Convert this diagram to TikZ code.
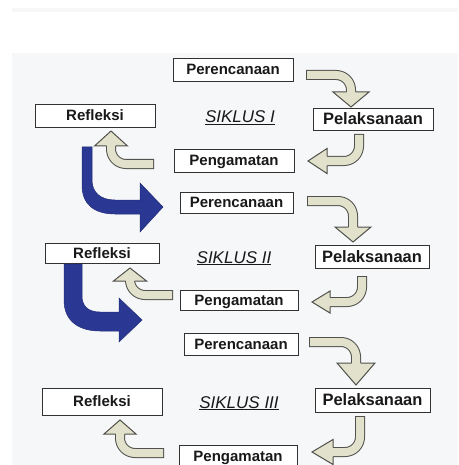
\documentclass[tikz,border=0pt]{standalone}
\usepackage{fontspec}
\setmainfont{Liberation Sans}
\usetikzlibrary{calc}
\definecolor{cream}{RGB}{226,225,203}
\definecolor{cedge}{RGB}{80,80,76}
\definecolor{bblue}{RGB}{42,56,148}
\definecolor{bgray}{RGB}{246,247,249}
\definecolor{boxline}{RGB}{50,50,50}
\newcommand{\creamarrow}[7]{%
  \draw[cedge, line width=10pt, rounded corners=15pt] #1 -- #3 -- #4;
  \draw[cream, line width=8pt, rounded corners=15pt] #2 -- #3 -- #4;
  \fill[cream] ($#4+#6*#5$) -- #7 -- ($#4-#6*#5$) -- cycle;
  \draw[cedge, line width=1pt, line join=miter] ($#4+4.5*#5$) -- ($#4+#6*#5$) -- #7 -- ($#4-#6*#5$) -- ($#4-4.5*#5$);
}
\tikzset{
  box/.style={draw=boxline, line width=0.9pt, fill=white, inner sep=0pt, text=black!90,
    font=\bfseries\fontsize{15}{17}\selectfont, text height=10.8pt, text depth=0pt},
  pelbox/.style={box, font=\bfseries\fontsize{16.5}{18}\selectfont, text height=11.8pt},
  siklus/.style={anchor=base, inner sep=0pt, text=black!90, font=\itshape\fontsize{17}{19}\selectfont},
  bluearrow/.style={fill=bblue, draw=bblue!80!black, line width=0.5pt}
}
\begin{document}
\begin{tikzpicture}[x=1pt, y=-1pt]
\clip (0,0) rectangle (458,465);
\fill[white] (0,0) rectangle (458,465);
\fill[black!3] (12,8) rectangle (458,12);
\fill[bgray] (12,53) rectangle (458,465);

% ---------- Cycle I ----------
\node[box, minimum width=120pt, minimum height=23pt] (per1) at (233,69.5) {Perencanaan};
\node[box, minimum width=120pt, minimum height=23pt] (ref1) at (95,115.5) {Refleksi};
\node[pelbox, minimum width=120pt, minimum height=22pt] (pel1) at (373,119) {Pelaksanaan};
\node[box, minimum width=120pt, minimum height=23pt] (pen1) at (234,160.5) {Pengamatan};
\node[siklus] (s1) at (240,123) {\underline{SIKLUS I}};

\creamarrow{(306,75)}{(307,75)}{(351,75)}{(351,92)}{(1,0)}{18}{(351,107)}
\creamarrow{(359,134)}{(359,135)}{(359,161)}{(327,161)}{(0,1)}{12.5}{(308,161)}
\creamarrow{(154,164)}{(153,164)}{(111,164)}{(111,146)}{(1,0)}{16.5}{(111,131)}

% ---------- Cycle II ----------
\node[box, minimum width=113pt, minimum height=21pt] (per2) at (236.5,202.5) {Perencanaan};
\node[box, minimum width=114pt, minimum height=20pt] (ref2) at (102,253) {Refleksi};
\node[pelbox, minimum width=114pt, minimum height=23pt] (pel2) at (372,256.5) {Pelaksanaan};
\node[box, minimum width=118pt, minimum height=20pt] (pen2) at (239,300) {Pengamatan};
\node[siklus] (s2) at (234,263) {\underline{SIKLUS II}};

\creamarrow{(307,201)}{(308,201)}{(353,201)}{(353,227)}{(1,0)}{18}{(353,242)}
\creamarrow{(362,276)}{(362,277)}{(362,302)}{(330,302)}{(0,1)}{11}{(312,302)}
\creamarrow{(173,295)}{(172,295)}{(130,295)}{(130,281)}{(1,0)}{16.5}{(130,268)}

% ---------- Cycle III ----------
\node[box, minimum width=114pt, minimum height=22pt] (per3) at (241,344) {Perencanaan};
\node[box, minimum width=120pt, minimum height=27pt] (ref3) at (102,401.5) {Refleksi};
\node[pelbox, minimum width=115pt, minimum height=24pt] (pel3) at (372.5,400) {Pelaksanaan};
\node[box, minimum width=118pt, minimum height=23pt] (pen3) at (238,456.5) {Pengamatan};
\node[siklus] (s3) at (239,408) {\underline{SIKLUS III}};

\creamarrow{(309,342)}{(310,342)}{(356,342)}{(356,363)}{(1,0)}{19}{(356,385)}
\creamarrow{(360,416)}{(360,417)}{(360,452)}{(333,452)}{(0,1)}{12.5}{(312,452)}
\creamarrow{(164,453)}{(163,453)}{(120,453)}{(120,434)}{(1,0)}{16}{(120,420)}

% ---------- Blue arrows between cycles ----------
\filldraw[bluearrow] (82,147) -- (82,185) .. controls (82,205) and (95,214) .. (115,214)
  -- (140,214) -- (140,232) -- (163,207) -- (140,183) -- (140,200) -- (115,200)
  .. controls (100,200) and (92,192) .. (92,180) -- (92,147) -- cycle;
\filldraw[bluearrow] (64,264) -- (64,300) .. controls (64,322) and (80,331) .. (100,331)
  -- (119,331) -- (119,342) -- (142,320) -- (119,298) -- (119,312) -- (100,312)
  .. controls (88,312) and (82,306) .. (82,296) -- (82,264) -- cycle;
\end{tikzpicture}
\end{document}
